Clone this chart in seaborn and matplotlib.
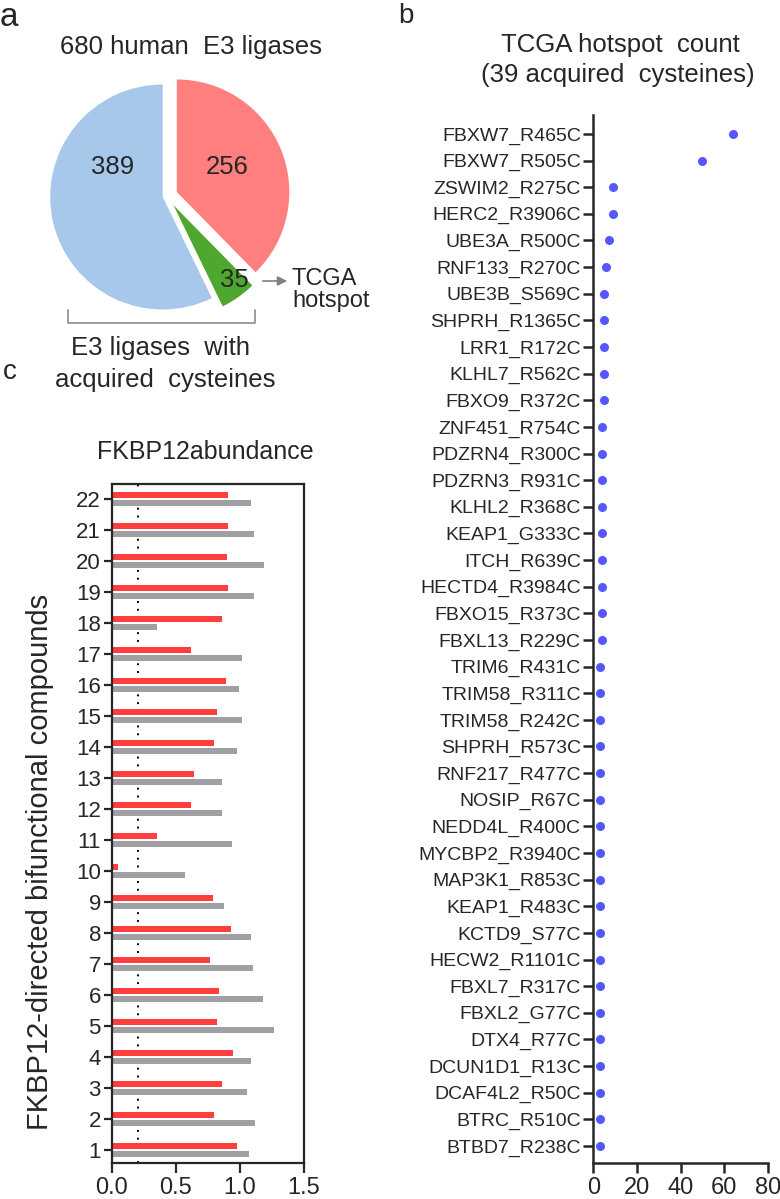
import matplotlib
matplotlib.use("Agg")
import matplotlib.pyplot as plt
import seaborn as sns
import pandas as pd

sns.set_theme(style="ticks")
plt.rcParams['font.family'] = ['Liberation Sans', 'DejaVu Sans']

# ---- panel a: pie of E3 ligases (clockwise from 12 o'clock)
pie_groups = ["no acquired cysteines", "TCGA hotspot", "acquired cysteines"]
pie_counts = [256, 35, 389]
pie_colors = ["#FF7F7F", "#4EA72E", "#A7C8EA"]

# ---- panel b: TCGA hotspot counts
sites = ["FBXW7_R465C", "FBXW7_R505C", "ZSWIM2_R275C", "HERC2_R3906C", "UBE3A_R500C",
         "RNF133_R270C", "UBE3B_S569C", "SHPRH_R1365C", "LRR1_R172C", "KLHL7_R562C",
         "FBXO9_R372C", "ZNF451_R754C", "PDZRN4_R300C", "PDZRN3_R931C", "KLHL2_R368C",
         "KEAP1_G333C", "ITCH_R639C", "HECTD4_R3984C", "FBXO15_R373C", "FBXL13_R229C",
         "TRIM6_R431C", "TRIM58_R311C", "TRIM58_R242C", "SHPRH_R573C", "RNF217_R477C",
         "NOSIP_R67C", "NEDD4L_R400C", "MYCBP2_R3940C", "MAP3K1_R853C", "KEAP1_R483C",
         "KCTD9_S77C", "HECW2_R1101C", "FBXL7_R317C", "FBXL2_G77C", "DTX4_R77C",
         "DCUN1D1_R13C", "DCAF4L2_R50C", "BTRC_R510C", "BTBD7_R238C"]
site_counts = [64, 50, 9, 9, 7, 6, 5, 5, 5, 5,
               5, 4, 4, 4, 4, 4, 4, 4, 4, 4,
               3, 3, 3, 3, 3, 3, 3, 3, 3, 3,
               3, 3, 3, 3, 3, 3, 3, 3, 3]

# ---- panel c: FKBP12 abundance per compound (1..22)
compounds = [str(i) for i in range(1, 23)]
red_vals = [0.98, 0.80, 0.86, 0.95, 0.82, 0.84, 0.77, 0.93, 0.79, 0.05, 0.35,
            0.62, 0.64, 0.80, 0.82, 0.89, 0.62, 0.86, 0.91, 0.90, 0.91, 0.91]
grey_vals = [1.07, 1.12, 1.06, 1.09, 1.27, 1.18, 1.10, 1.09, 0.88, 0.57, 0.94,
             0.86, 0.86, 0.98, 1.02, 0.99, 1.02, 0.35, 1.11, 1.19, 1.11, 1.09]
x_ticks_c = [0.0, 0.5, 1.0, 1.5]
x_ticks_b = [0, 20, 40, 60, 80]

W, H = 780, 1199
def fx(x): return x / W
def fy(y): return 1 - y / H

fig = plt.figure(figsize=(7.8, 11.99), dpi=100)

# ================= a =================
ax_a = fig.add_axes([0, fy(400), fx(400), 400 / H])
R = 112.5
ax_a.pie(pie_counts, colors=pie_colors, startangle=90, counterclock=False,
         explode=[10.6, 11.2, 4.4], radius=R, center=(167, 204),
         wedgeprops=dict(linewidth=0))
ax_a.set_xlim(0, 400)
ax_a.set_ylim(0, 400)
ax_a.axis('off')
def ay(y): return 400 - y
ax_a.text(191, ay(47), "680 human  E3 ligases", ha='center', va='center', fontsize=18.5)
ax_a.text(113, ay(167), "389", ha='center', va='center', fontsize=18.5)
ax_a.text(227, ay(167), "256", ha='center', va='center', fontsize=18.5)
ax_a.text(234, ay(280), "35", ha='center', va='center', fontsize=18.5)
ax_a.plot([68, 68, 255, 255], [ay(310), ay(323), ay(323), ay(310)], color='#8C8C8C', lw=1.2)
ax_a.text(161, ay(348), "E3 ligases  with", ha='center', va='center', fontsize=18.5)
ax_a.text(165, ay(380), "acquired  cysteines", ha='center', va='center', fontsize=18.5)
ax_a.annotate("", xy=(290, ay(281)), xytext=(260, ay(281)),
              arrowprops=dict(arrowstyle='-|>', color='#808080', lw=1.2, mutation_scale=14))
ax_a.text(292, ay(279), "TCGA", ha='left', va='center', fontsize=17)
ax_a.text(292, ay(301), "hotspot", ha='left', va='center', fontsize=17)

# ================= b =================
ax_b = fig.add_axes([fx(593.3), fy(1163), 174.4 / W, (1163 - 115) / H])
df_b = pd.DataFrame({"site": sites, "count": site_counts})
sns.stripplot(data=df_b, x="count", y="site", order=sites, jitter=False,
              color="#5757FF", size=6.5, linewidth=0, ax=ax_b)
ax_b.set_xlim(0, 80)
ax_b.set_ylim(38.64, -0.71)
ax_b.set_xticks(x_ticks_b)
ax_b.set_xlabel("")
ax_b.set_ylabel("")
sns.despine(ax=ax_b)
for s in ['left', 'bottom']:
    ax_b.spines[s].set_linewidth(1.8)
ax_b.tick_params(axis='y', length=7, width=1.8, labelsize=14, pad=2)
ax_b.tick_params(axis='x', length=7, width=1.8, labelsize=17, pad=3)

fig.text(fx(620), fy(45), "TCGA hotspot  count", ha='center', va='center', fontsize=18.5)
fig.text(fx(618), fy(75), "(39 acquired  cysteines)", ha='center', va='center', fontsize=18.5)

# ================= c =================
ax_c = fig.add_axes([fx(112), fy(1163.3), (303.7 - 112) / W, (1163.3 - 484) / H])
df_c = pd.DataFrame({"compound": compounds * 2,
                     "abundance": red_vals + grey_vals,
                     "set": ["red"] * 22 + ["grey"] * 22})
order_c = compounds[::-1]
ax_c.axvline(0.2, color='black', ls=(0, (1, 3)), lw=1.4, zorder=0)
sns.barplot(data=df_c, x="abundance", y="compound", hue="set", order=order_c,
            hue_order=["red", "grey"], palette={"red": "#FF3E3E", "grey": "#A0A0A4"},
            saturation=1, width=0.48, gap=0.2, errorbar=None, linewidth=0,
            legend=False, orient='h', ax=ax_c, zorder=2)
ax_c.set_xlim(0, 1.5)
ax_c.set_ylim(21.43, -0.48)
ax_c.set_xticks(x_ticks_c)
ax_c.set_xticklabels([f"{v:.1f}" for v in x_ticks_c])
ax_c.set_xlabel("")
ax_c.set_ylabel("")
for s in ax_c.spines.values():
    s.set_linewidth(1.6)
ax_c.tick_params(axis='y', length=6, width=1.6, labelsize=16, pad=2)
ax_c.tick_params(axis='x', length=7, width=1.6, labelsize=17, pad=3)

fig.text(fx(205), fy(452), "FKBP12abundance", ha='center', va='center', fontsize=18)
fig.text(fx(40), fy(862), "FKBP12-directed bifunctional compounds", rotation=90,
         ha='center', va='center', fontsize=21)

# panel letters
fig.text(fx(9), fy(18), "a", ha='center', va='center', fontsize=24)
fig.text(fx(406), fy(16), "b", ha='center', va='center', fontsize=20)
fig.text(fx(10), fy(372), "c", ha='center', va='center', fontsize=20)

fig.savefig("out.png", dpi=100)
